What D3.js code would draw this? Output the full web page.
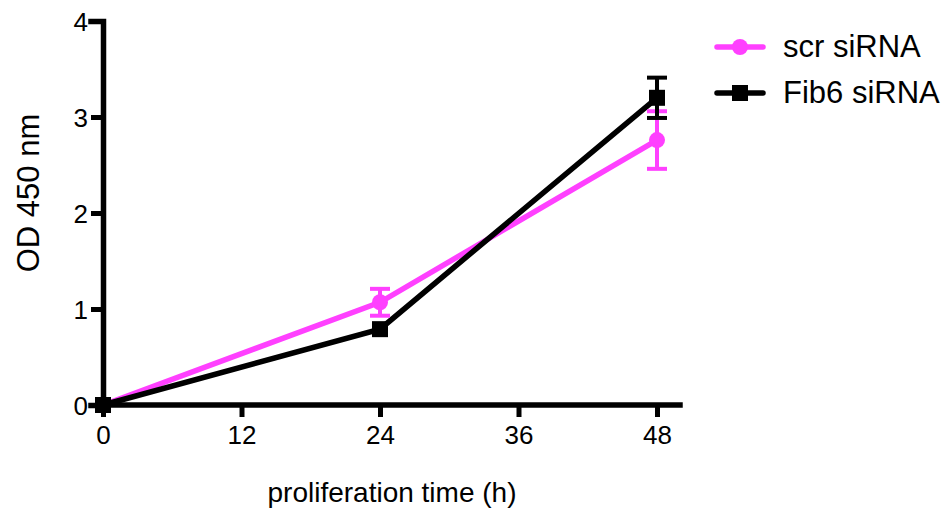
<!DOCTYPE html>
<html><head><meta charset="utf-8">
<script src="https://cdn.jsdelivr.net/npm/d3@7"></script>
<style>body{margin:0;background:#fff}text{font-family:"Liberation Sans",Arial,sans-serif}</style>
</head><body><svg id="c" width="949" height="514"></svg>
<script>
const times = [0, 24, 48];
const scrMean = [0, 1.07, 2.76];
const scrErr = [0, 0.14, 0.30];
const fibMean = [0, 0.79, 3.20];
const fibErr = [0, 0.03, 0.21];
const xTicks = [0, 12, 24, 36, 48];
const yTicks = [0, 1, 2, 3, 4];
const seriesNames = ["scr siRNA", "Fib6 siRNA"];
const colors = ["#ff40ff", "#000000"];

const svg = d3.select("#c");
const x = d3.scaleLinear().domain([0, 48]).range([103, 657]);
const y = d3.scaleLinear().domain([0, 4]).range([405, 21]);
const g = svg.append("g");

// axes
const xa = g.append("g").attr("transform", "translate(0,405)")
  .call(d3.axisBottom(x).tickValues(xTicks).tickFormat(d3.format("d")).tickSize(12).tickPadding(4));
xa.select(".domain").attr("d", "M103,0H680");
const ya = g.append("g").attr("transform", "translate(103,0)")
  .call(d3.axisLeft(y).tickValues(yTicks).tickFormat(d3.format("d")).tickSize(12).tickPadding(3));
[xa, ya].forEach(a => {
  a.selectAll(".domain").attr("stroke", "#000").attr("stroke-width", 5.5).attr("stroke-linecap", "square");
  a.selectAll(".tick line").attr("stroke", "#000").attr("stroke-width", 5);
  a.selectAll(".tick text").attr("font-size", 26).attr("fill", "#000");
});
xa.selectAll(".tick text").attr("dy", "0.9em");
ya.selectAll(".tick text").attr("dy", "0.36em");

const series = [
  {mean: scrMean, err: scrErr, color: colors[0], shape: "circle"},
  {mean: fibMean, err: fibErr, color: colors[1], shape: "square"}
];
const line = d3.line().x((d, i) => x(times[i])).y(d => y(d));
series.forEach(s => {
  g.append("path").datum(s.mean).attr("d", line).attr("fill", "none")
    .attr("stroke", s.color).attr("stroke-width", 5.5);
});
series.forEach(s => {
  s.mean.forEach((m, i) => {
    if (s.err[i] > 0.05) {
      const cx = x(times[i]);
      g.append("line").attr("x1", cx).attr("x2", cx).attr("y1", y(m - s.err[i])).attr("y2", y(m + s.err[i]))
        .attr("stroke", s.color).attr("stroke-width", 4);
      [m - s.err[i], m + s.err[i]].forEach(v => {
        g.append("line").attr("x1", cx - 10).attr("x2", cx + 10).attr("y1", y(v)).attr("y2", y(v))
          .attr("stroke", s.color).attr("stroke-width", 4);
      });
    }
    if (s.shape === "circle") {
      g.append("circle").attr("cx", x(times[i])).attr("cy", y(m)).attr("r", 8).attr("fill", s.color);
    } else {
      g.append("rect").attr("x", x(times[i]) - 8).attr("y", y(m) - 8).attr("width", 16).attr("height", 16).attr("fill", s.color);
    }
  });
});

// labels
svg.append("text").attr("x", 392).attr("y", 502).attr("text-anchor", "middle").attr("font-size", 28).text("proliferation time (h)");
svg.append("text").attr("transform", "translate(39,193) rotate(-90)").attr("text-anchor", "middle").attr("font-size", 31).text("OD 450 nm");

// legend
seriesNames.forEach((n, i) => {
  const ly = 47 + i * 46;
  const lg = svg.append("g");
  lg.append("line").attr("x1", 717).attr("x2", 763).attr("y1", ly).attr("y2", ly).attr("stroke", colors[i]).attr("stroke-width", 5.5).attr("stroke-linecap", "round");
  if (i === 0) lg.append("circle").attr("cx", 740).attr("cy", ly).attr("r", 8).attr("fill", colors[i]);
  else lg.append("rect").attr("x", 732).attr("y", ly - 8).attr("width", 16).attr("height", 16).attr("fill", colors[i]);
  lg.append("text").attr("x", 783).attr("y", ly + 10).attr("font-size", 31).text(n);
});
</script></body></html>
